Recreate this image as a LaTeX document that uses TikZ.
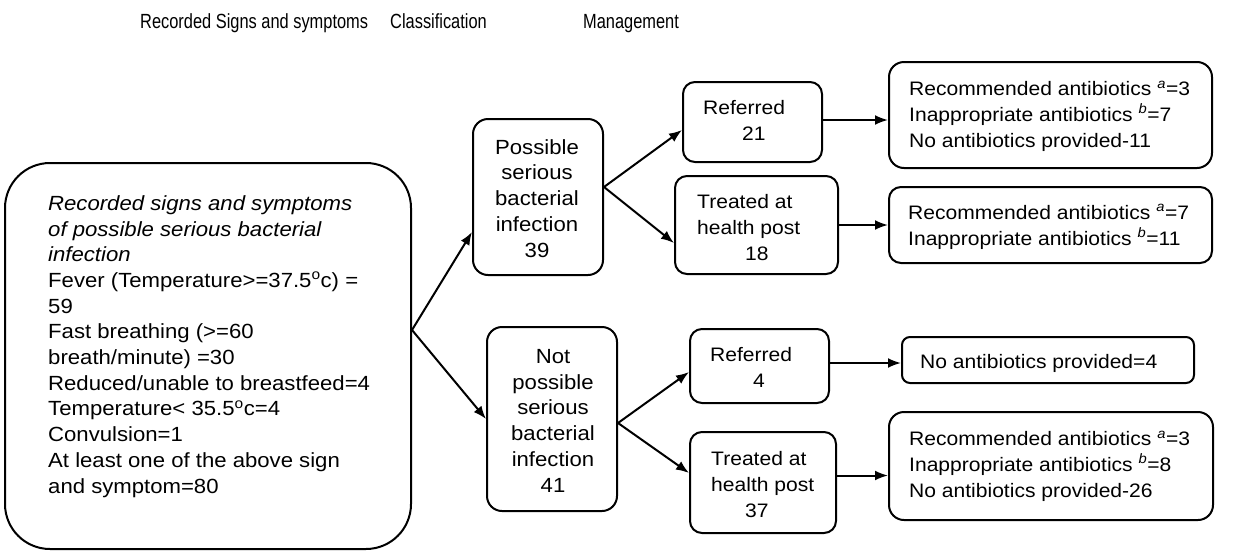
\documentclass[tikz,border=0pt]{standalone}
\usepackage{fontspec}
\setmainfont{Liberation Sans}
\newfontfamily\bodyfont[FakeStretch=1.08]{Liberation Sans}
\newfontfamily\headfont[FakeStretch=0.8]{Liberation Sans}
\usetikzlibrary{arrows.meta}
\begin{document}
\begin{tikzpicture}[x=1pt,y=-1pt,
  every node/.style={font=\bodyfont\fontsize{19.5}{25.7}\selectfont},
  bigf/.style={font=\bodyfont\fontsize{20.5}{25.7}\selectfont},
  headf/.style={font=\headfont\fontsize{20.5}{25}\selectfont},
  box/.style={draw, line width=2pt, rounded corners=#1, inner sep=0pt},
  txt/.style={inner sep=0pt, align=left, anchor=base west},
  ctxt/.style={inner sep=0pt, align=center, anchor=base},
  arr/.style={-{Latex[length=13pt,width=10pt]}, line width=2pt}]
\useasboundingbox (0,0) rectangle (1243,555);

% headers
\node[txt, headf] (h1) at (140,28) {Recorded Signs and symptoms};
\node[txt, headf] (h2) at (390,28) {Classification};
\node[txt, headf] (h3) at (583,28) {Management};

% boxes
\node[box=45pt, minimum width=406pt, minimum height=386pt] (lbox) at (208,356) {};
\node[box=15pt, minimum width=130pt, minimum height=156pt] (poss) at (538,197) {};
\node[box=15pt, minimum width=130pt, minimum height=184pt] (np) at (552,419) {};
\node[box=12pt, minimum width=139pt, minimum height=80pt] (ref1) at (752.5,122) {};
\node[box=12pt, minimum width=163pt, minimum height=98pt] (t1) at (756.5,225) {};
\node[box=15pt, minimum width=323pt, minimum height=106pt] (res1) at (1050.5,115) {};
\node[box=12pt, minimum width=323pt, minimum height=76pt] (res2) at (1050.5,225) {};
\node[box=12pt, minimum width=139pt, minimum height=74pt] (ref2) at (759.5,366) {};
\node[box=8pt, minimum width=292pt, minimum height=46pt] (res3) at (1048,360) {};
\node[box=12pt, minimum width=146pt, minimum height=101pt] (t2) at (763,482.5) {};
\node[box=15pt, minimum width=324pt, minimum height=108pt] (res4) at (1051,466) {};

% texts (anchor base = baseline of last line)
\node[txt, bigf] (ltext) at (48,493) {\textit{Recorded signs and symptoms}\\
\textit{of possible serious bacterial}\\
\textit{infection}\\
Fever (Temperature>=37.5\textsuperscript{o}c) =\\
59\\
Fast breathing (>=60\\
breath/minute) =30\\
Reduced/unable to breastfeed=4\\
Temperature< 35.5\textsuperscript{o}c=4\\
Convulsion=1\\
At least one of the above sign\\
and symptom=80};

\node[ctxt, bigf] (posst) at (537,257) {Possible\\serious\\bacterial\\infection\\39};
\node[ctxt, bigf] (npt) at (553,492) {Not\\possible\\serious\\bacterial\\infection\\41};
\node[txt] (ref1t) at (703,140) {Referred\\\hspace*{39pt}21};
\node[txt] (t1t) at (697,260) {Treated at\\health post\\\hspace*{48pt}18};
\node[txt] (ref2t) at (710,387) {Referred\\\hspace*{43pt}4};
\node[txt] (t2t) at (711,517) {Treated at\\health post\\\hspace*{34pt}37};
\node[txt] (res1t) at (909,147) {Recommended antibiotics \textsuperscript{\textit{a}}=3\\
Inappropriate antibiotics \textsuperscript{\textit{b}}=7\\
No antibiotics provided-11};
\node[txt] (res2t) at (908,245) {Recommended antibiotics \textsuperscript{\textit{a}}=7\\
Inappropriate antibiotics \textsuperscript{\textit{b}}=11};
\node[txt] (res3t) at (920,368) {No antibiotics provided=4};
\node[txt] (res4t) at (909,497) {Recommended antibiotics \textsuperscript{\textit{a}}=3\\
Inappropriate antibiotics \textsuperscript{\textit{b}}=8\\
No antibiotics provided-26};

% connectors
\draw[arr] ([yshift=26pt]lbox.east) -- ([yshift=-35pt]poss.west);
\draw[arr] ([yshift=26pt]lbox.east) -- (np.west);
\draw[arr] ([yshift=10pt]poss.east) -- ([yshift=-8pt]ref1.west);
\draw[arr] ([yshift=10pt]poss.east) -- ([yshift=-18pt]t1.west);
\draw[arr] ([yshift=-4pt]np.east) -- ([yshift=-6pt]ref2.west);
\draw[arr] ([yshift=-4pt]np.east) -- ([yshift=9.5pt]t2.west);
\coordinate (o1) at ([yshift=2pt]ref1.east);
\coordinate (o3) at ([yshift=3pt]ref2.east);
\coordinate (o4) at ([yshift=7pt]t2.east);
\draw[arr] (o1) -- (o1 -| res1.west);
\draw[arr] (t1.east) -- (t1.east -| res2.west);
\draw[arr] (o3) -- (o3 -| res3.west);
\draw[arr] (o4) -- (o4 -| res4.west);
\end{tikzpicture}
\end{document}
